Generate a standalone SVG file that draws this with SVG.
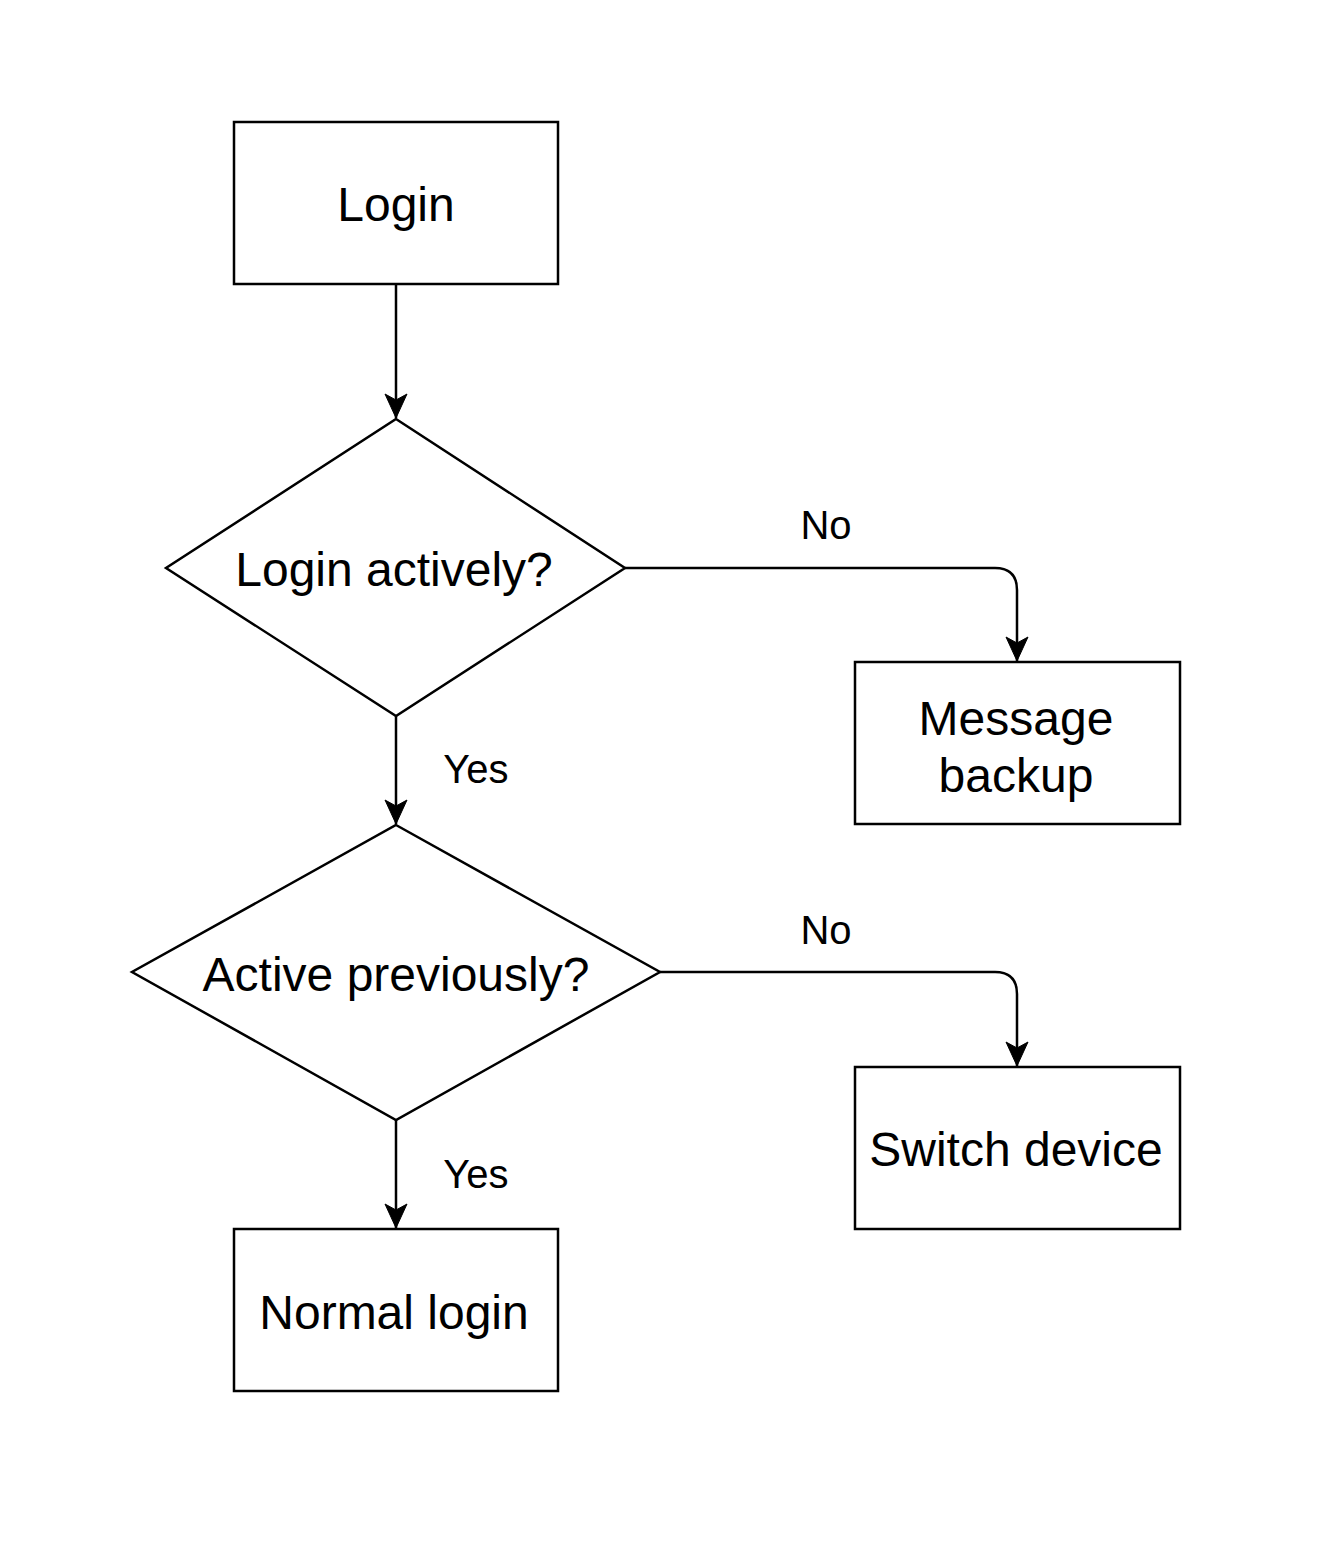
<svg xmlns="http://www.w3.org/2000/svg" width="1340" height="1564" viewBox="0 0 1340 1564">
<style>
.shape{fill:#fff;stroke:#000;stroke-width:2.5}
.edge{fill:none;stroke:#000;stroke-width:2.5}
.t{font-family:"Liberation Sans",Arial,sans-serif;font-size:48px;fill:#000;text-anchor:middle}
.l{font-family:"Liberation Sans",Arial,sans-serif;font-size:40px;fill:#000;text-anchor:middle}
</style>
<defs>
<marker id="arr" markerUnits="userSpaceOnUse" markerWidth="30" markerHeight="30" viewBox="0 0 30 30" refX="26" refY="15" orient="auto">
<path d="M26,15 L2,4 L8,15 L2,26 Z" fill="#000" stroke="#000" stroke-width="1"/>
</marker>
</defs>
<rect width="1340" height="1564" fill="#fff"/>
<g id="connectors">
<path class="edge" d="M396,284 V418" marker-end="url(#arr)"/>
<path class="edge" d="M625,568 H995 Q1017,568 1017,590 V661" marker-end="url(#arr)"/>
<path class="edge" d="M396,716 V824" marker-end="url(#arr)"/>
<path class="edge" d="M660,972 H995 Q1017,972 1017,994 V1066" marker-end="url(#arr)"/>
<path class="edge" d="M396,1120 V1228" marker-end="url(#arr)"/>
<text class="l" x="826" y="539">No</text>
<text class="l" x="476" y="783">Yes</text>
<text class="l" x="826" y="944">No</text>
<text class="l" x="476" y="1188">Yes</text>
</g>
<g id="login">
<rect class="shape" x="234" y="122" width="324" height="162"/>
<text class="t" x="396" y="221">Login</text>
</g>
<g id="login-actively">
<polygon class="shape" points="396,419 625,568 396,716 166,568"/>
<text class="t" x="394" y="586">Login actively?</text>
</g>
<g id="message-backup">
<rect class="shape" x="855" y="662" width="325" height="162"/>
<text class="t" x="1016" y="735">Message</text>
<text class="t" x="1016" y="792">backup</text>
</g>
<g id="active-previously">
<polygon class="shape" points="396,825 660,972 396,1120 132,972"/>
<text class="t" x="396" y="991">Active previously?</text>
</g>
<g id="switch-device">
<rect class="shape" x="855" y="1067" width="325" height="162"/>
<text class="t" x="1016" y="1166">Switch device</text>
</g>
<g id="normal-login">
<rect class="shape" x="234" y="1229" width="324" height="162"/>
<text class="t" x="394" y="1329">Normal login</text>
</g>
</svg>
